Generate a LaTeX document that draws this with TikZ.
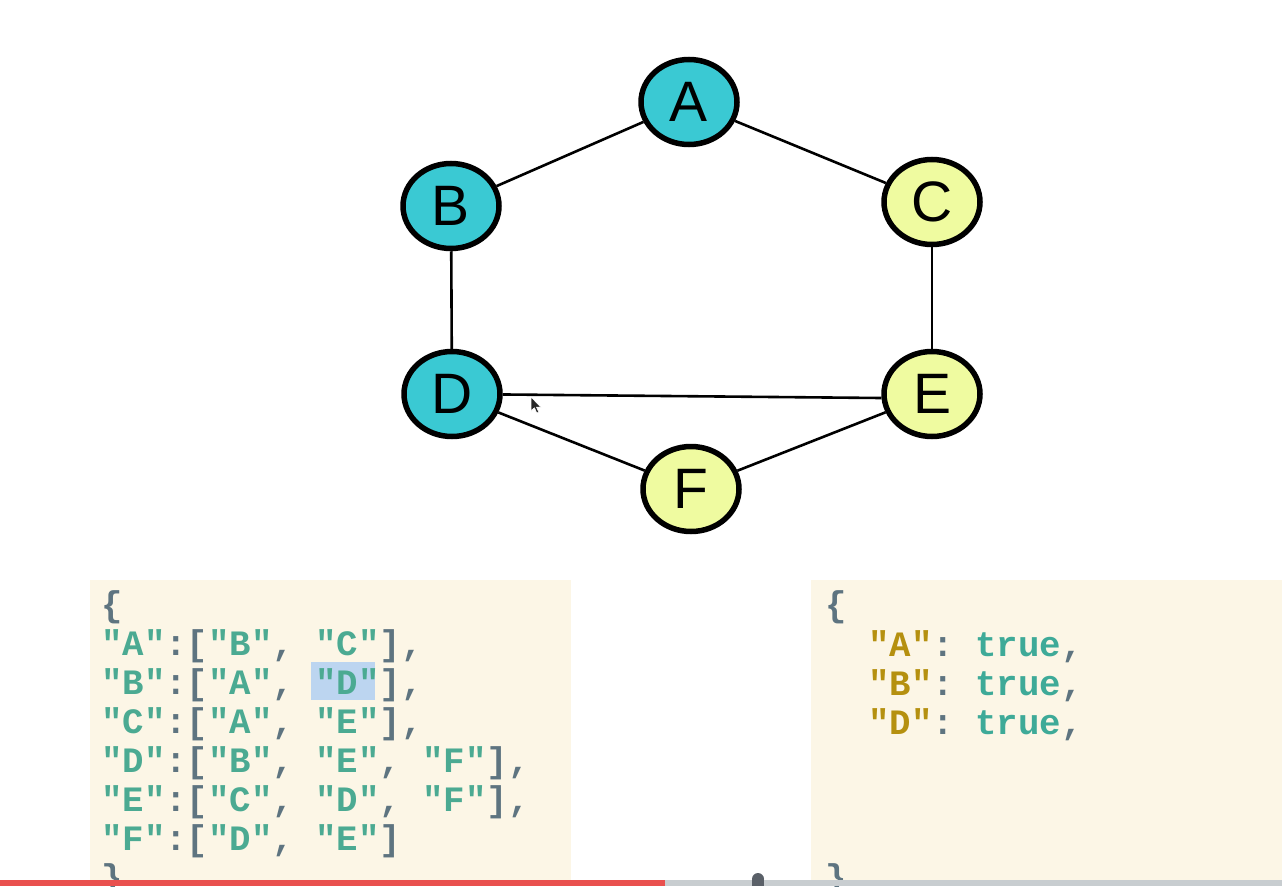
\documentclass[tikz,border=0pt]{standalone}
\usepackage{fontspec}
\setmainfont{Liberation Sans}
\setmonofont{Liberation Mono}
\usetikzlibrary{shapes.geometric}
\definecolor{visited}{HTML}{3AC9D3}
\definecolor{pending}{HTML}{EFFBA0}
\definecolor{panel}{HTML}{FCF6E6}
\definecolor{strcol}{HTML}{4BAA92}
\definecolor{boolcol}{HTML}{3EAA98}
\definecolor{keycol}{HTML}{B5900F}
\definecolor{punct}{HTML}{5E7480}
\definecolor{selbg}{HTML}{BCD5F0}
\definecolor{barplayed}{HTML}{E9504E}
\definecolor{barrest}{HTML}{C8CDD0}
\definecolor{knob}{HTML}{5A6068}
% quoted string and punctuation in the code panels
\newcommand{\jstr}[1]{\textcolor{strcol}{"#1"}}
\newcommand{\jkey}[1]{\textcolor{keycol}{"#1"}}
\newcommand{\jp}[1]{\textcolor{punct}{#1}}
\newcommand{\jtrue}{\textcolor{boolcol}{true}}
\tikzset{
  vertex/.style={ellipse, draw=black, line width=5.5pt, minimum width=96pt,
    minimum height=85pt, inner sep=0pt, font=\fontsize{57}{57}\selectfont},
  seen/.style={vertex, fill=visited},
  unseen/.style={vertex, fill=pending},
  edge/.style={line width=2.6pt, black},
  codeline/.style={anchor=base west, inner sep=0pt,
    font=\fontsize{35.7}{39}\selectfont\ttfamily\bfseries},
}
\begin{document}
\begin{tikzpicture}[x=1pt,y=-1pt]
\useasboundingbox (0,0) rectangle (1282,886);
\fill[white] (0,0) rectangle (1282,886);

% graph vertices
\node[seen]   (A) at (689,102) {A};
\node[seen]   (B) at (451,206) {B};
\node[unseen] (C) at (932,202) {C};
\node[seen]   (D) at (452,394) {D};
\node[unseen] (E) at (932,394) {E};
\node[unseen] (F) at (691,489) {F};

% graph edges
\draw[edge] (A) -- (B);
\draw[edge] (A) -- (C);
\draw[edge] (B) -- (D);
\draw[edge] (C) -- (E);
\draw[edge] (D) -- ([yshift=-4pt]E.west);
\draw[edge] (D) -- (F);
\draw[edge] (E) -- (F);

% mouse pointer
\coordinate (ptr) at (531,397);
\fill[black!85, draw=white, line width=0.6pt, shift={(ptr)}]
  (0,0) -- (0,14) -- (3.4,10.8) -- (5.8,16) -- (7.8,15.1) -- (5.5,10.2) -- (10,10.2) -- cycle;

% adjacency list panel
\fill[panel] (90,580) rectangle (571,886);
\fill[selbg] (311,662) rectangle (375,700);
\node[codeline] (l0) at (101,616) {\jp{\{}};
\node[codeline] (l1) at (101,655) {\jstr{A}\jp{:[}\jstr{B}\jp{,} \jstr{C}\jp{],}};
\node[codeline] (l2) at (101,694) {\jstr{B}\jp{:[}\jstr{A}\jp{,} \jstr{D}\jp{],}};
\node[codeline] (l3) at (101,733) {\jstr{C}\jp{:[}\jstr{A}\jp{,} \jstr{E}\jp{],}};
\node[codeline] (l4) at (101,772) {\jstr{D}\jp{:[}\jstr{B}\jp{,} \jstr{E}\jp{,} \jstr{F}\jp{],}};
\node[codeline] (l5) at (101,811) {\jstr{E}\jp{:[}\jstr{C}\jp{,} \jstr{D}\jp{,} \jstr{F}\jp{],}};
\node[codeline] (l6) at (101,850) {\jstr{F}\jp{:[}\jstr{D}\jp{,} \jstr{E}\jp{]}};
\node[codeline] (l7) at (101,889) {\jp{\}}};

% visited set panel
\fill[panel] (811,580) rectangle (1282,886);
\node[codeline] (v0) at (825,616) {\jp{\{}};
\node[codeline] (v1) at (868,656) {\jkey{A}\jp{:} \jtrue\jp{,}};
\node[codeline] (v2) at (868,695) {\jkey{B}\jp{:} \jtrue\jp{,}};
\node[codeline] (v3) at (868,734) {\jkey{D}\jp{:} \jtrue\jp{,}};
\node[codeline] (v4) at (825,889) {\jp{\}}};

% playback progress bar
\fill[barplayed] (0,880) rectangle (665,886);
\fill[barrest] (665,880) rectangle (1282,886);
\fill[knob] (752,879) rectangle (764,886);
\fill[knob] (758,879) circle[radius=6pt];
\end{tikzpicture}
\end{document}
